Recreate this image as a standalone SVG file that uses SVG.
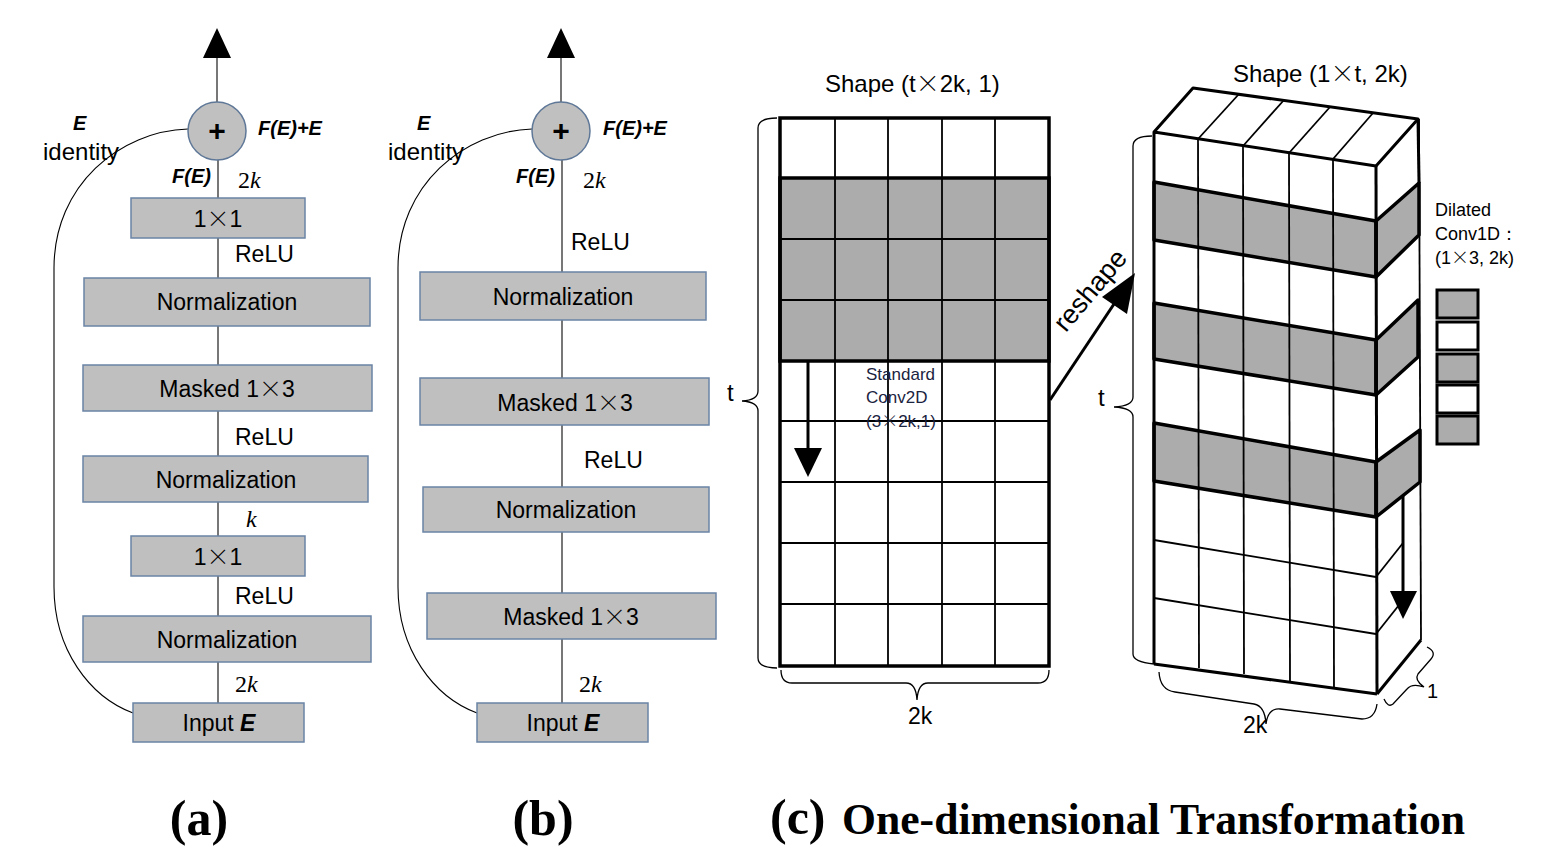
<svg xmlns="http://www.w3.org/2000/svg" width="1545" height="857" viewBox="0 0 1545 857">
<style>
.box{fill:#bfbfbf;stroke:#6b84a6;stroke-width:1.5}
.circ{fill:#c0c0c0;stroke:#5f7898;stroke-width:1.5}
.ln{stroke:#555;stroke-width:1.6;fill:none}
.skip{stroke:#000;stroke-width:1.1;fill:none}
.t{font-family:"Liberation Sans",Arial,sans-serif;font-size:23px;fill:#000}
.bt{text-anchor:middle}
.lab{font-family:"Liberation Sans",Arial,sans-serif;font-size:20px;font-weight:bold;font-style:italic;fill:#000}
.m{font-family:"Liberation Serif",serif;font-size:24px;fill:#000}
.x{font-family:"Noto Sans CJK JP",sans-serif;font-weight:300}
.cap{font-family:"Liberation Serif",serif;font-weight:bold;fill:#000}
.g{fill:#acacac}
.thick{stroke:#000;stroke-width:3.5;fill:none}
.thin{stroke:#000;stroke-width:1.8;fill:none}
.br{stroke:#000;stroke-width:1.3;fill:none}
.small{font-family:"Liberation Sans",Arial,sans-serif;font-size:17px;fill:#1a2340}
</style>

<!-- Panel (a) -->
<g id="connectors-a">
<line class="ln" x1="217" y1="102" x2="217" y2="56"/>
<polygon points="203,58 231,58 217,28" fill="#000"/>
<line class="ln" x1="218" y1="160" x2="218" y2="198"/>
<line class="ln" x1="218" y1="238" x2="218" y2="278"/>
<line class="ln" x1="218" y1="326" x2="218" y2="365"/>
<line class="ln" x1="218" y1="411" x2="218" y2="456"/>
<line class="ln" x1="218" y1="502" x2="218" y2="536"/>
<line class="ln" x1="218" y1="576" x2="218" y2="616"/>
<line class="ln" x1="218" y1="662" x2="218" y2="703"/>
<path class="skip" d="M188,129 C120,131 54,185 54,268 L54,587 C54,650 90,697 133,713"/>
</g>
<g id="plus-a">
<circle class="circ" cx="217" cy="131" r="29"/>
<text x="217" y="141" class="t bt" style="font-size:30px;font-weight:bold">+</text>
</g>
<text x="73" y="130" class="lab">E</text>
<text x="43" y="160" class="t" style="font-size:24px">identity</text>
<text x="258" y="135" class="lab">F(E)+E</text>
<text x="172" y="183" class="lab">F(E)</text>
<text x="238" y="188" class="m">2<tspan font-style="italic">k</tspan></text>
<g id="a-conv1"><rect class="box" x="131" y="198" width="174" height="40"/><text x="218" y="227" class="t bt">1<tspan class="x">×</tspan>1</text></g>
<text x="235" y="262" class="t">ReLU</text>
<g id="a-norm1"><rect class="box" x="84" y="278" width="286" height="48"/><text x="227" y="310" class="t bt">Normalization</text></g>
<g id="a-mask"><rect class="box" x="83" y="365" width="289" height="46"/><text x="227" y="397" class="t bt">Masked 1<tspan class="x">×</tspan>3</text></g>
<text x="235" y="445" class="t">ReLU</text>
<g id="a-norm2"><rect class="box" x="83" y="456" width="285" height="46"/><text x="226" y="488" class="t bt">Normalization</text></g>
<text x="246" y="527" class="m" font-style="italic">k</text>
<g id="a-conv2"><rect class="box" x="131" y="536" width="174" height="40"/><text x="218" y="565" class="t bt">1<tspan class="x">×</tspan>1</text></g>
<text x="235" y="604" class="t">ReLU</text>
<g id="a-norm3"><rect class="box" x="83" y="616" width="288" height="46"/><text x="227" y="648" class="t bt">Normalization</text></g>
<text x="235" y="692" class="m">2<tspan font-style="italic">k</tspan></text>
<g id="a-input"><rect class="box" x="133" y="703" width="171" height="39"/><text x="219" y="731" class="t bt">Input <tspan font-weight="bold" font-style="italic">E</tspan></text></g>

<!-- Panel (b) -->
<g id="connectors-b">
<line class="ln" x1="561" y1="102" x2="561" y2="56"/>
<polygon points="547,58 575,58 561,28" fill="#000"/>
<line class="ln" x1="562" y1="160" x2="562" y2="272"/>
<line class="ln" x1="562" y1="320" x2="562" y2="378"/>
<line class="ln" x1="562" y1="425" x2="562" y2="487"/>
<line class="ln" x1="562" y1="532" x2="562" y2="593"/>
<line class="ln" x1="562" y1="639" x2="562" y2="703"/>
<path class="skip" d="M532,129 C464,131 398,185 398,268 L398,587 C398,650 434,697 477,713"/>
</g>
<g id="plus-b">
<circle class="circ" cx="561" cy="131" r="29"/>
<text x="561" y="141" class="t bt" style="font-size:30px;font-weight:bold">+</text>
</g>
<text x="417" y="130" class="lab">E</text>
<text x="388" y="160" class="t" style="font-size:24px">identity</text>
<text x="603" y="135" class="lab">F(E)+E</text>
<text x="516" y="183" class="lab">F(E)</text>
<text x="583" y="188" class="m">2<tspan font-style="italic">k</tspan></text>
<text x="571" y="250" class="t">ReLU</text>
<g id="b-norm1"><rect class="box" x="420" y="272" width="286" height="48"/><text x="563" y="305" class="t bt">Normalization</text></g>
<g id="b-mask1"><rect class="box" x="420" y="378" width="289" height="47"/><text x="565" y="411" class="t bt">Masked 1<tspan class="x">×</tspan>3</text></g>
<text x="584" y="468" class="t">ReLU</text>
<g id="b-norm2"><rect class="box" x="423" y="487" width="286" height="45"/><text x="566" y="518" class="t bt">Normalization</text></g>
<g id="b-mask2"><rect class="box" x="427" y="593" width="289" height="46"/><text x="571" y="625" class="t bt">Masked 1<tspan class="x">×</tspan>3</text></g>
<text x="579" y="692" class="m">2<tspan font-style="italic">k</tspan></text>
<g id="b-input"><rect class="box" x="477" y="703" width="171" height="39"/><text x="563" y="731" class="t bt">Input <tspan font-weight="bold" font-style="italic">E</tspan></text></g>

<!-- Panel (c) left grid -->
<g id="grid2d">
<rect class="g" x="780" y="178" width="269" height="183"/>
<g class="thin">
<line x1="835" y1="118" x2="835" y2="666"/>
<line x1="888" y1="118" x2="888" y2="666"/>
<line x1="942" y1="118" x2="942" y2="666"/>
<line x1="995" y1="118" x2="995" y2="666"/>
<line x1="780" y1="239" x2="1049" y2="239"/>
<line x1="780" y1="300" x2="1049" y2="300"/>
<line x1="780" y1="421" x2="1049" y2="421"/>
<line x1="780" y1="482" x2="1049" y2="482"/>
<line x1="780" y1="543" x2="1049" y2="543"/>
<line x1="780" y1="604" x2="1049" y2="604"/>
</g>
<rect class="thick" x="780" y="118" width="269" height="548"/>
<rect class="thick" x="780" y="178" width="269" height="183"/>
<line x1="808" y1="361" x2="808" y2="450" stroke="#000" stroke-width="3"/>
<polygon points="794,448 822,448 808,477" fill="#000"/>
<text class="small"><tspan x="866" y="380">Standard</tspan><tspan x="866" y="403">Conv2D</tspan><tspan x="866" y="427">(3<tspan class="x">×</tspan>2k,1)</tspan></text>
<path class="br" d="M777,118 Q758,118 758,128 L758,391 Q758,400 742,401 Q758,402 758,411 L758,658 Q758,668 777,668"/>
<text x="727" y="401" class="t" style="font-size:24px">t</text>
<path class="br" d="M781,670 Q781,683 792,683 L906,683 Q916,683 917,700 Q918,683 928,683 L1038,683 Q1049,683 1049,670"/>
<text x="908" y="724" class="t">2k</text>
<text x="825" y="92" class="t" style="font-size:24px">Shape (t<tspan class="x">×</tspan>2k, 1)</text>
</g>

<!-- reshape arrow -->
<g id="reshape">
<line x1="1050" y1="400" x2="1120" y2="295" stroke="#000" stroke-width="3"/>
<polygon points="1102,297 1127,314 1135,273" fill="#000"/>
<text transform="translate(1097,296) rotate(-50)" x="0" y="0" class="t bt" style="font-size:27px">reshape</text>
</g>

<!-- Panel (c) right 3D block -->
<g id="block3d">
<polygon class="g" points="1154,182 1376,221 1376,277 1154,240"/>
<polygon class="g" points="1154,303 1376,340 1376,395 1154,359"/>
<polygon class="g" points="1154,423 1376,462 1376,517 1154,481"/>
<polygon class="g" points="1376,221 1419,183 1419,235 1376,277"/>
<polygon class="g" points="1376,340 1418,300 1418,357 1376,395"/>
<polygon class="g" points="1376,462 1420,430 1420,482 1376,517"/>
<g class="thin">
<line x1="1198" y1="139" x2="1199" y2="668"/>
<line x1="1243" y1="146" x2="1244" y2="674"/>
<line x1="1289" y1="153" x2="1290" y2="682"/>
<line x1="1333" y1="159" x2="1334" y2="688"/>
<line x1="1198" y1="139" x2="1239" y2="94"/>
<line x1="1243" y1="146" x2="1284" y2="100"/>
<line x1="1289" y1="153" x2="1330" y2="107"/>
<line x1="1333" y1="159" x2="1373" y2="113"/>
<line x1="1154" y1="540" x2="1376" y2="577"/>
<line x1="1154" y1="598" x2="1376" y2="634"/>
<line x1="1376" y1="577" x2="1403" y2="543"/>
<line x1="1376" y1="634" x2="1403" y2="600"/>
<line x1="1419" y1="119" x2="1421" y2="640"/>
</g>
<g class="thick" stroke-linejoin="round">
<polygon points="1154,182 1376,221 1376,277 1154,240"/>
<polygon points="1154,303 1376,340 1376,395 1154,359"/>
<polygon points="1154,423 1376,462 1376,517 1154,481"/>
<polygon points="1376,221 1419,183 1419,235 1376,277"/>
<polygon points="1376,340 1418,300 1418,357 1376,395"/>
<polygon points="1376,462 1420,430 1420,482 1376,517"/>
</g>
<g style="stroke:#000;stroke-width:3;fill:none" stroke-linejoin="round">
<polyline points="1154,664 1154,132 1193,88 1418,119 1376,166 1154,132"/>
<line x1="1418" y1="119" x2="1419" y2="183"/>
<line x1="1376" y1="166" x2="1377" y2="694"/>
<line x1="1154" y1="664" x2="1377" y2="694"/>
<line x1="1377" y1="694" x2="1421" y2="640"/>
</g>
<line x1="1403" y1="496" x2="1403" y2="594" stroke="#000" stroke-width="3"/>
<polygon points="1390,591 1417,591 1403,619" fill="#000"/>
<path class="br" d="M1152,136 Q1133,136 1133,146 L1133,397 Q1133,406 1114,407 Q1133,408 1133,417 L1133,654 Q1133,662 1154,664"/>
<text x="1098" y="406" class="t" style="font-size:24px">t</text>
<path class="br" d="M1159,672 Q1160,690 1175,692 L1254,704 Q1265,706 1266,724 Q1268,708 1280,709 L1362,719 Q1375,719 1377,704"/>
<text x="1243" y="733" class="t">2k</text>
<path class="br" d="M1427,647 Q1437,652 1431,659 L1418,674 Q1414,680 1424,687 Q1412,683 1407,689 L1393,704 Q1388,708 1384,699"/>
<text x="1427" y="698" class="t" style="font-size:20px">1</text>
<text x="1233" y="82" class="t" style="font-size:24px">Shape (1<tspan class="x">×</tspan>t, 2k)</text>
</g>

<!-- Dilated kernel -->
<g id="kernel">
<text class="small" style="fill:#000;font-size:18px"><tspan x="1435" y="216">Dilated</tspan><tspan x="1435" y="240">Conv1D：</tspan><tspan x="1435" y="264">(1<tspan class="x">×</tspan>3, 2k)</tspan></text>
<g style="stroke:#000;stroke-width:3">
<rect class="g" x="1437" y="290" width="41" height="28"/>
<rect fill="#fff" x="1437" y="322" width="41" height="28"/>
<rect class="g" x="1437" y="354" width="41" height="28"/>
<rect fill="#fff" x="1437" y="385" width="41" height="28"/>
<rect class="g" x="1437" y="416" width="41" height="28"/>
</g>
</g>

<!-- captions -->
<text x="199" y="835" class="cap bt" font-size="50">(a)</text>
<text x="543" y="835" class="cap bt" font-size="50">(b)</text>
<text x="770" y="834" class="cap" font-size="50">(c)</text>
<text x="842" y="834" class="cap" font-size="44" textLength="623" lengthAdjust="spacingAndGlyphs">One-dimensional Transformation</text>
</svg>
